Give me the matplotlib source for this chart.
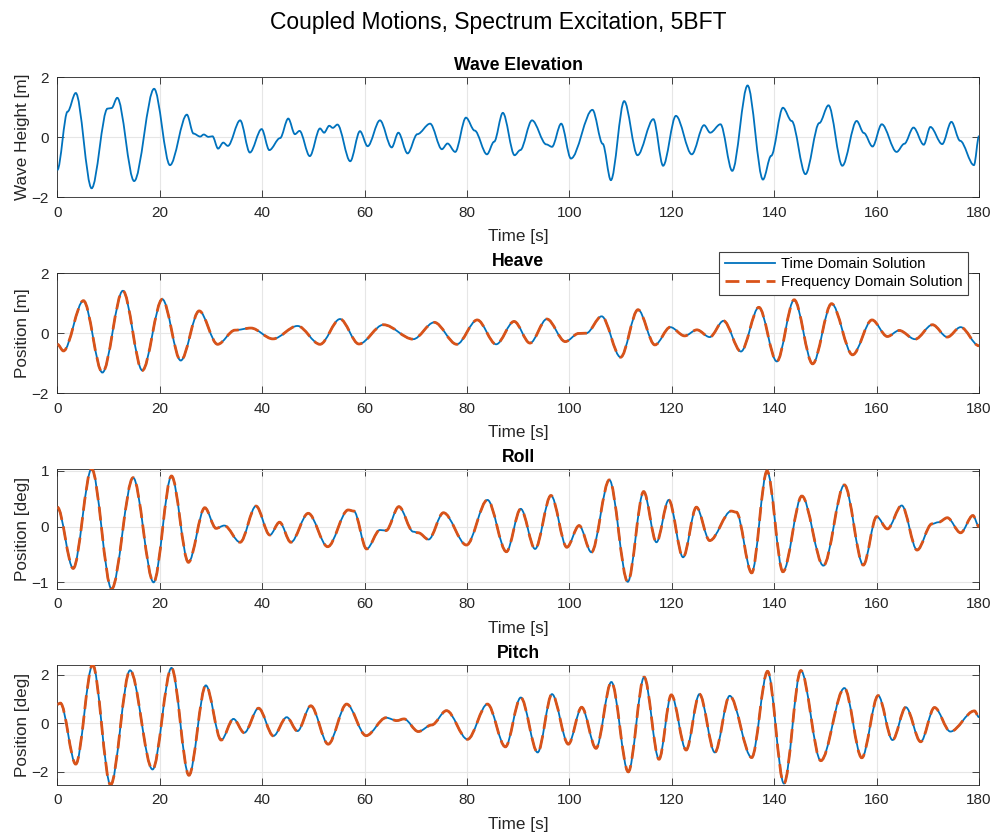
import matplotlib
matplotlib.use('Agg')
import matplotlib.pyplot as plt
from matplotlib.path import Path
from matplotlib.patches import PathPatch
from matplotlib.lines import Line2D

plt.rcParams['font.family'] = ['Liberation Sans', 'DejaVu Sans']

# ---- data (turning points of each trace) ----
wave_t = [0, 2.0, 3.6, 6.7, 9.8, 10.6, 11.7, 15.0, 18.9, 22.0, 25.3, 26.6, 27.9, 28.6,
          29.5, 30.3, 31.4, 32.4, 33.3, 35.7, 37.6, 39.9, 41.4, 43.5, 45.1, 46.4, 47.3,
          49.3, 51.3, 52.1, 53.1, 53.8, 54.7, 57.2, 59.1, 60.6, 63.0, 65.3, 66.6, 68.4,
          70.3, 72.8, 75.1, 76.2, 77.7, 79.8, 81.5, 83.9, 85.3, 87.0, 89.3, 90.4, 92.7,
          95.5, 96.6, 98.4, 100.3, 104.5, 106.5, 108.1, 110.7, 113.3, 116.4, 118.3,
          120.8, 123.9, 126.3, 127.5, 129.5, 131.8, 134.8, 137.8, 139.4, 141.7, 143.4,
          146.1, 148.8, 150.6, 153.3, 156.1, 157.5, 159.2, 161.0, 163.9, 165.4, 167.2,
          169.2, 170.5, 172.8, 174.6, 176.3, 179.0, 180.0]
wave_y = [-1.09, 0.85, 1.47, -1.70, 0.95, 0.97, 1.31, -1.46, 1.61, -0.93, 0.75, 0.12, 0.02, 0.09,
          0.01, 0.03, -0.38, -0.18, -0.29, 0.56, -0.51, 0.27, -0.43, -0.03, 0.62, 0.10, 0.21,
          -0.63, 0.29, 0.15, 0.38, 0.31, 0.42, -0.80, 0.20, -0.30, 0.56, -0.34, 0.15, -0.54,
          0.10, 0.45, -0.40, -0.21, -0.49, 0.65, 0.22, -0.57, -0.15, 0.81, -0.60, -0.43, 0.56,
          -0.24, -0.32, 0.45, -0.71, 0.91, -0.22, -1.43, 1.20, -0.60, 0.60, -0.95,
          0.71, -0.57, 0.40, 0.15, 0.43, -1.12, 1.72, -1.41, -0.62, 0.98, 0.54,
          -1.23, 0.47, 1.06, -0.95, 0.54, 0.14, -0.31, 0.43, -0.49, -0.22, 0.32,
          -0.25, 0.34, -0.23, 0.51, -0.12, -0.93, 0.04]

heave_t = [0, 1.2, 5.1, 8.8, 12.8, 16.6, 20.5, 24.1, 27.7, 31.3, 34.7, 37.8, 42.1, 46.9,
           51.3, 55.2, 58.9, 63.7, 69.5, 73.6, 78.0, 82.0, 85.7, 89.2, 92.3, 95.6, 99.2,
           101.8, 103.3, 106.3, 110.0, 113.4, 116.7, 119.7, 122.5, 124.9, 127.4, 130.1,
           133.5, 137.0, 140.5, 143.9, 147.5, 151.2, 155.3, 159.1, 162.1, 164.4, 167.5,
           170.9, 173.8, 176.4, 180.0]
heave_y = [-0.37, -0.59, 1.08, -1.31, 1.41, -1.24, 1.13, -0.91, 0.74, -0.37, 0.10, 0.17, -0.19, 0.24,
           -0.37, 0.47, -0.36, 0.28, -0.20, 0.36, -0.37, 0.44, -0.37, 0.39, -0.33, 0.47, -0.28,
           -0.01, 0.00, 0.56, -0.80, 0.78, -0.39, 0.20, -0.09, 0.11, -0.13, 0.41,
           -0.61, 0.86, -0.94, 1.11, -1.02, 0.98, -0.72, 0.44, -0.11, 0.09, -0.20,
           0.28, -0.13, 0.20, -0.42]

roll_t = [0, 3.1, 6.7, 10.6, 14.8, 18.8, 22.3, 25.6, 28.8, 31.0, 32.6, 35.7, 38.8, 41.5,
          43.4, 45.6, 49.0, 52.8, 56.8, 57.9, 60.4, 63.0, 64.2, 66.7, 69.5, 70.5, 72.5,
          75.4, 79.9, 84.0, 87.7, 90.5, 93.3, 96.4, 99.5, 101.9, 104.3, 107.8, 111.4,
          114.5, 117.0, 119.4, 122.2, 124.8, 127.4, 131.6, 132.6, 135.6, 138.6, 141.7,
          145.4, 149.6, 153.7, 157.4, 160.0, 162.1, 164.9, 167.9, 170.8, 172.1, 173.8,
          176.4, 178.8, 180.0]
roll_y = [0.35, -0.75, 1.04, -1.12, 0.88, -1.00, 0.91, -0.64, 0.34, -0.03, 0.02, -0.28, 0.37, -0.15,
          0.08, -0.28, 0.24, -0.36, 0.30, 0.28, -0.40, -0.06, -0.07, 0.36, -0.09, -0.11, -0.23,
          0.25, -0.33, 0.48, -0.45, 0.32, -0.40, 0.56, -0.37, 0.02, -0.46, 0.84, -0.99,
          0.63, -0.28, 0.48, -0.55, 0.35, -0.25, 0.28, 0.26, -0.83, 1.00, -0.81,
          0.55, -0.70, 0.75, -0.69, 0.18, -0.04, 0.38, -0.42, 0.05, 0.08, 0.16,
          -0.11, 0.20, 0.00]

pitch_t = [0, 0.6, 3.6, 6.9, 10.4, 14.2, 18.6, 22.3, 25.7, 29.0, 32.0, 34.4, 36.5, 39.3,
           42.2, 44.8, 46.9, 49.5, 52.9, 56.5, 60.3, 64.2, 66.3, 67.7, 70.5, 73.1, 76.0,
           80.1, 84.0, 87.5, 90.5, 93.8, 96.6, 99.8, 102.4, 105.2, 108.2, 111.5, 114.6,
           117.5, 119.9, 122.8, 125.4, 128.4, 131.3, 135.6, 138.7, 141.9, 145.2, 149.1,
           153.7, 157.1, 160.3, 163.1, 165.7, 168.6, 171.3, 174.4, 179.1, 180.0]
pitch_y = [0.78, 0.83, -1.68, 2.41, -2.54, 2.18, -1.90, 2.28, -2.14, 1.56, -0.69, 0.18, -0.39, 0.62,
           -0.52, 0.25, -0.32, 0.72, -0.86, 0.79, -0.51, 0.23, 0.11, 0.18, -0.34, -0.07, 0.52,
           -0.66, 0.79, -0.97, 1.06, -1.20, 1.20, -0.86, 0.66, -1.03, 1.70, -2.00, 1.90,
           -1.48, 1.17, -1.10, 1.20, -1.20, 1.13, -1.41, 2.14, -2.48, 2.17, -1.54,
           1.45, -1.42, 1.14, -0.69, 0.66, -0.76, 0.65, -0.34, 0.51, 0.25]

x_ticks = [0, 20, 40, 60, 80, 100, 120, 140, 160, 180]

blue = '#0072BD'
orange = '#D95319'
dark = '#262626'


def wave_path(t, y):
    # smooth curve through the turning points (flat tangent at each one)
    verts = [(t[0], y[0])]
    codes = [Path.MOVETO]
    for i in range(1, len(t)):
        d = (t[i] - t[i - 1]) / 3.0
        verts += [(t[i - 1] + d, y[i - 1]), (t[i] - d, y[i]), (t[i], y[i])]
        codes += [Path.CURVE4] * 3
    return Path(verts, codes)


fig = plt.figure(figsize=(9.97, 8.35), dpi=100)
fig.suptitle('Coupled Motions, Spectrum Excitation, 5BFT', fontsize=16.5, y=1 - 23 / 835, va='center')

left, width, height = 0.0575, 0.9245, 0.1440
bottoms = [0.7637, 0.5290, 0.2946, 0.0599]

panels = [
    ('Wave Elevation', 'Wave Height [m]', wave_t, wave_y, False, (-2, 2), [-2, 0, 2]),
    ('Heave', 'Position [m]', heave_t, heave_y, True, (-2, 2), [-2, 0, 2]),
    ('Roll', 'Position [deg]', roll_t, roll_y, True, (min(roll_y), max(roll_y)), [-1, 0, 1]),
    ('Pitch', 'Position [deg]', pitch_t, pitch_y, True, (min(pitch_y), max(pitch_y)), [-2, 0, 2]),
]

axes = []
for (title, ylabel, t, y, both, ylim, yticks), b in zip(panels, bottoms):
    ax = fig.add_axes([left, b, width, height])
    ax.add_patch(PathPatch(wave_path(t, y), fill=False, ec=blue, lw=1.3, zorder=3))
    if both:
        ax.add_patch(PathPatch(wave_path(t, y), fill=False, ec=orange, lw=2.0,
                               ls=(0, (5.0, 2.4)), capstyle='butt', zorder=4))
    ax.set_xlim(0, 180)
    ax.set_ylim(*ylim)
    ax.set_xticks(x_ticks)
    ax.set_yticks(yticks)
    ax.set_axisbelow(True)
    ax.grid(True, color='#e6e6e6', lw=0.8)
    ax.tick_params(direction='in', top=True, right=True, length=5, width=0.6,
                   labelsize=11, colors=dark, pad=6)
    for s in ax.spines.values():
        s.set_color(dark)
        s.set_linewidth(0.6)
    ax.set_title(title, fontsize=12.7, fontweight='bold', pad=5)
    ax.set_xlabel('Time [s]', fontsize=12.3, color=dark, labelpad=7)
    ax.set_ylabel(ylabel, fontsize=12.3, color=dark, labelpad=1)
    axes.append(ax)

handles = [Line2D([], [], color=blue, lw=1.3),
           Line2D([], [], color=orange, lw=2.0, ls=(0, (5.0, 2.4)))]
leg = axes[1].legend(handles, ['Time Domain Solution', 'Frequency Domain Solution'],
                     loc='upper right', bbox_to_anchor=(0.988, 1.178), borderaxespad=0,
                     fontsize=10.5, fancybox=False, framealpha=1, edgecolor='#404040',
                     handlelength=3.4, handletextpad=0.4, labelspacing=0.25, borderpad=0.4)
leg.get_frame().set_linewidth(0.8)

fig.savefig('out.png', dpi=100)
